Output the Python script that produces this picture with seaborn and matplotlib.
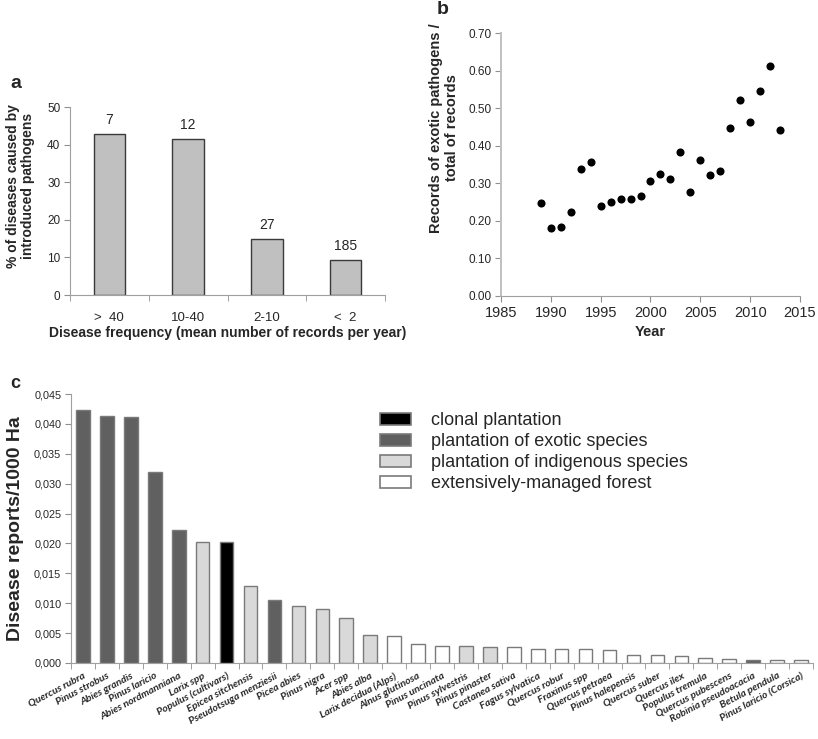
import matplotlib
matplotlib.use("Agg")
import matplotlib.pyplot as plt
from matplotlib.patches import Patch
from matplotlib.ticker import FuncFormatter, FixedLocator
import numpy as np
import pandas as pd
import seaborn as sns

# ---------------- data ----------------
freq_classes = [">  40", "10-40", "2-10", "<  2"]
pct_introduced = [42.8, 41.6, 14.8, 9.3]
n_diseases = ["7", "12", "27", "185"]

years = list(range(1989, 2014))
exotic_ratio = [0.247, 0.182, 0.184, 0.223, 0.338, 0.356, 0.240, 0.250, 0.258,
                0.257, 0.265, 0.305, 0.326, 0.312, 0.382, 0.277, 0.362, 0.322,
                0.333, 0.446, 0.521, 0.462, 0.545, 0.611, 0.442]

species = ["Quercus rubra", "Pinus strobus", "Abies grandis", "Pinus laricio",
           "Abies nordmanniana", "Larix spp", "Populus (cultivars)",
           "Epicea sitchensis", "Pseudotsuga menziesii", "Picea abies",
           "Pinus nigra", "Acer spp", "Abies alba", "Larix decidua (Alps)",
           "Alnus glutinosa", "Pinus uncinata", "Pinus sylvestris",
           "Pinus pinaster", "Castanea sativa", "Fagus sylvatica",
           "Quercus robur", "Fraxinus spp", "Quercus petraea",
           "Pinus halepensis", "Quercus suber", "Quercus ilex",
           "Populus tremula", "Quercus pubescens", "Robinia pseudoacacia",
           "Betula pendula", "Pinus laricio (Corsica)"]
reports = [0.0424, 0.0413, 0.0411, 0.0319, 0.0222, 0.0203, 0.0203, 0.0129,
           0.0105, 0.0096, 0.0090, 0.0076, 0.0047, 0.0046, 0.0031, 0.0028,
           0.0028, 0.0026, 0.0026, 0.0024, 0.0023, 0.0023, 0.0022, 0.0013,
           0.0013, 0.0012, 0.0009, 0.0007, 0.00045, 0.00045, 0.00045]
CL, EX, IN, EF = ("clonal plantation", "plantation of exotic species",
                  "plantation of indigenous species", "extensively-managed forest")
forest_type = [EX, EX, EX, EX, EX, IN, CL, IN, EX, IN, IN, IN, IN, EF, EF, EF,
               IN, IN, EF, EF, EF, EF, EF, EF, EF, EF, EF, EF, EX, EF, EF]
type_order = [CL, EX, IN, EF]
type_colors = ["#000000", "#606060", "#d9d9d9", "#ffffff"]

# ---------------- style ----------------
sns.set_style("ticks")
plt.rcParams["font.family"] = ["Liberation Sans", "DejaVu Sans"]

W, H = 818, 739
fig = plt.figure(figsize=(W / 100, H / 100), dpi=100)

def box(l, t, r, b):
    return [l / W, 1 - b / H, (r - l) / W, (b - t) / H]

# ---------------- panel a ----------------
axa = fig.add_axes(box(70, 107, 385, 295))
df_a = pd.DataFrame({"freq": freq_classes, "pct": pct_introduced})
sns.barplot(data=df_a, x="freq", y="pct", order=freq_classes, color="#c0c0c0",
            saturation=1, edgecolor="#3a3a3a", linewidth=1.0, width=0.4, ax=axa)
axa.bar_label(axa.containers[0], labels=n_diseases, padding=5, fontsize=10)
axa.set_xlim(-0.5, 3.5)
axa.set_ylim(0, 50)
axa.set_yticks([0, 10, 20, 30, 40, 50])
axa.xaxis.set_major_locator(FixedLocator(range(4)))
axa.set_xticklabels(freq_classes)
axa.xaxis.set_minor_locator(FixedLocator(np.arange(-0.5, 4.0, 1.0)))
axa.tick_params(axis="x", which="major", length=0, pad=12, labelsize=9.5)
axa.tick_params(axis="x", which="minor", length=4, color="#909090")
axa.tick_params(axis="y", length=4, color="#909090", labelsize=8.5, pad=3)
sns.despine(ax=axa)
for s in ("left", "bottom"):
    axa.spines[s].set_color("#a0a0a0")
axa.set_xlabel("Disease frequency (mean number of records per year)",
               fontsize=10, fontweight="bold", labelpad=2)
axa.set_ylabel("% of diseases caused by\nintroduced pathogens",
               fontsize=10, fontweight="bold", linespacing=1.1)
axa.yaxis.set_label_coords(-0.112, 0.58)
fig.text(10 / W, 1 - 84 / H, "a", fontsize=14, fontweight="bold",
         va="center", ha="left")

# ---------------- panel b ----------------
axb = fig.add_axes(box(501, 33, 800, 296))
df_b = pd.DataFrame({"Year": years, "ratio": exotic_ratio})
sns.scatterplot(data=df_b, x="Year", y="ratio", color="black", s=34,
                edgecolor="black", linewidth=0, ax=axb)
axb.set_xlim(1985, 2015)
axb.set_ylim(0, 0.70)
axb.set_xticks(range(1985, 2016, 5))
axb.set_yticks(np.arange(0, 0.71, 0.1))
axb.yaxis.set_major_formatter(FuncFormatter(lambda v, _: f"{v:.2f}"))
axb.tick_params(axis="x", length=4, color="#909090", labelsize=10.5, pad=3)
axb.tick_params(axis="y", length=4, color="#909090", labelsize=8.5, pad=3)
sns.despine(ax=axb)
axb.spines["left"].set_color("#c0c0c0")
axb.spines["left"].set_linewidth(1.4)
axb.spines["bottom"].set_color("#a0a0a0")
axb.set_xlabel("Year", fontsize=10.5, fontweight="bold", labelpad=4)
axb.set_ylabel("Records of exotic pathogens /\ntotal of records",
               fontsize=10.5, fontweight="bold", linespacing=1.15)
axb.yaxis.set_label_coords(-0.14, 0.64)
fig.text(437 / W, 1 - 9 / H, "b", fontsize=14, fontweight="bold",
         va="center", ha="left")

# ---------------- panel c ----------------
axc = fig.add_axes(box(71, 394, 813, 663))
df_c = pd.DataFrame({"species": species, "reports": reports, "type": forest_type})
sns.barplot(data=df_c, x="species", y="reports", hue="type", order=species,
            hue_order=type_order, palette=dict(zip(type_order, type_colors)),
            saturation=1, dodge=False, width=0.57, edgecolor="#7a7a7a",
            linewidth=1.0, legend=False, ax=axc)
axc.set_xlim(-0.5, len(species) - 0.5)
axc.set_ylim(0, 0.045)
axc.set_yticks(np.arange(0, 0.0451, 0.005))
axc.yaxis.set_major_formatter(FuncFormatter(lambda v, _: f"{v:.3f}".replace(".", ",")))
axc.xaxis.set_major_locator(FixedLocator(range(len(species))))
axc.set_xticklabels(species, rotation=28, ha="right", rotation_mode="anchor",
                    fontsize=7.5, style="italic", family=["Lato", "DejaVu Sans"],
                    fontweight="bold")
axc.xaxis.set_minor_locator(FixedLocator(np.arange(-0.5, len(species), 1.0)))
axc.tick_params(axis="x", which="major", length=0, pad=6)
axc.tick_params(axis="x", which="minor", length=4, color="#909090")
axc.tick_params(axis="y", length=4, color="#909090", labelsize=7.8, pad=3)
sns.despine(ax=axc)
for s in ("left", "bottom"):
    axc.spines[s].set_color("#a0a0a0")
axc.set_xlabel("")
axc.set_ylabel("Disease reports/1000 Ha", fontsize=14, fontweight="bold")
axc.yaxis.set_label_coords(-0.064, 0.5)
fig.text(10 / W, 1 - 383 / H, "c", fontsize=13, fontweight="bold",
         va="center", ha="left")

handles = [Patch(facecolor=c, edgecolor="#7a7a7a", linewidth=1.2) for c in type_colors]
fig.legend(handles, type_order, loc="upper left",
           bbox_to_anchor=(380 / W, 1 - 412 / H), frameon=False, fontsize=13,
           handlelength=1.7, handleheight=0.65, handletextpad=1.1,
           labelspacing=0.22, borderpad=0, borderaxespad=0)

fig.savefig("out.png", dpi=100)
